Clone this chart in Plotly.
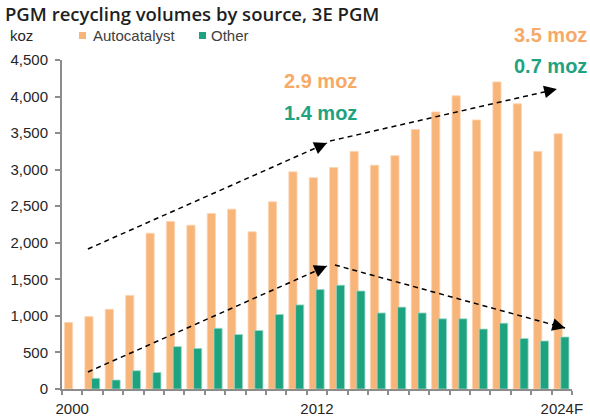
import plotly.graph_objects as go

years = list(range(2000, 2025))
tick_vals = [2000, 2012, 2024]
tick_text = ["2000", "2012", "2024F"]

autocatalyst = [910, 990, 1090, 1280, 2130, 2290, 2240, 2400, 2460, 2150,
                2560, 2970, 2890, 3030, 3250, 3060, 3190, 3550, 3790, 4010,
                3680, 4200, 3900, 3250, 3490]
other = [None, 146, 123, 250, 225, 580, 555, 830, 745, 800,
         1020, 1150, 1360, 1420, 1340, 1040, 1120, 1040, 960, 960,
         820, 900, 690, 657, 711]

ORANGE = "#F8B57A"
GREEN = "#1EA380"
ORANGE_TXT = "#F6AA68"
AXIS = "#8C8C8C"
FONT = "Liberation Sans, Arial, sans-serif"

fig = go.Figure()
fig.add_trace(go.Bar(x=years, y=autocatalyst, name="Autocatalyst",
                     marker=dict(color=ORANGE, line=dict(color="#FBD3AF", width=0.8)),
                     offset=-0.38, width=0.40))
fig.add_trace(go.Bar(x=years, y=other, name="Other",
                     marker=dict(color=GREEN, line=dict(color="#9AD8C4", width=0.8)),
                     offset=-0.05, width=0.40))

segments = [
    ((2000.77, 1915), (2012.49, 3365)),
    ((2012.64, 3392), (2023.76, 4103)),
    ((2000.77, 233), (2012.49, 1682)),
    ((2012.88, 1696), (2024.16, 834)),
]
for (x0, y0), (x1, y1) in segments:
    fig.add_shape(type="line", xref="x", yref="y", x0=x0, y0=y0, x1=x1, y1=y1,
                  line=dict(color="black", width=1.5, dash="5px,4px"))
    fx = x0 + (x1 - x0) * 0.97
    fy = y0 + (y1 - y0) * 0.97
    fig.add_annotation(x=x1, y=y1, ax=fx, ay=fy, xref="x", yref="y",
                       axref="x", ayref="y", text="", showarrow=True,
                       arrowhead=2, arrowsize=1.7, arrowwidth=1.5,
                       arrowcolor="black", standoff=0, startstandoff=0)

labels = [
    ("2.9 moz", 0.506, 0.936, ORANGE_TXT),
    ("1.4 moz", 0.506, 0.839, GREEN),
    ("3.5 moz", 0.957, 1.076, ORANGE_TXT),
    ("0.7 moz", 0.957, 0.982, GREEN),
]
for txt, x, y, c in labels:
    fig.add_annotation(x=x, y=y, xref="paper", yref="paper", text="<b>" + txt + "</b>",
                       showarrow=False, xanchor="center", yanchor="middle",
                       font=dict(family=FONT, size=20, color=c))

fig.add_annotation(x=-0.106, y=1.073, xref="paper", yref="paper", text="koz",
                   showarrow=False, xanchor="left", yanchor="middle",
                   font=dict(family=FONT, size=15, color="#262626"))

for name, c, sx0, tx in [("Autocatalyst", ORANGE, 0.0333, 0.0569),
                         ("Other", GREEN, 0.2686, 0.2882)]:
    fig.add_shape(type="rect", xref="paper", yref="paper", x0=sx0, x1=sx0 + 0.0138,
                  y0=1.0638, y1=1.0851, fillcolor=c, line=dict(width=0))
    fig.add_annotation(x=tx, y=1.073, xref="paper", yref="paper", text=name,
                       showarrow=False, xanchor="left", yanchor="middle",
                       font=dict(family=FONT, size=15, color="#404040"))

fig.update_layout(
    width=590, height=417,
    margin=dict(l=62, r=18, t=60, b=28, autoexpand=False),
    paper_bgcolor="white", plot_bgcolor="white",
    barmode="overlay", showlegend=False,
    title=dict(text="PGM recycling volumes by source, 3E PGM", x=0.0085, xanchor="left",
               y=0.966, yanchor="middle", xref="container", yref="container",
               automargin=False,
               font=dict(family="Open Sans, sans-serif", size=18.5, color="#1F1F1F", weight=600)),
    font=dict(family=FONT, size=15, color="#262626"),
)
fig.update_xaxes(range=[1999.5, 2024.5], tickmode="array", tickvals=tick_vals,
                 ticktext=tick_text, ticks="outside", ticklen=5, tickcolor="rgba(0,0,0,0)",
                 automargin=False,
                 showline=True, linecolor=AXIS, linewidth=2, showgrid=False, zeroline=False,
                 tickfont=dict(family=FONT, size=15, color="#262626"),
                 minor=dict(ticks="outside", ticklen=4, tickcolor=AXIS, tickwidth=1.5,
                            tickmode="linear", tick0=1999.5, dtick=1, showgrid=False))
fig.update_yaxes(range=[0, 4500], dtick=500, tickformat=",", ticks="outside", ticklen=5,
                 automargin=False,
                 tickcolor=AXIS, tickwidth=1.5, showline=True, linecolor=AXIS, linewidth=2,
                 showgrid=False, zeroline=False, ticklabelstandoff=4,
                 tickfont=dict(family=FONT, size=15, color="#262626"))

fig.write_html("out.html", config={"displayModeBar": False},
               post_script="document.body.style.margin='0';document.body.style.overflow='hidden';")
